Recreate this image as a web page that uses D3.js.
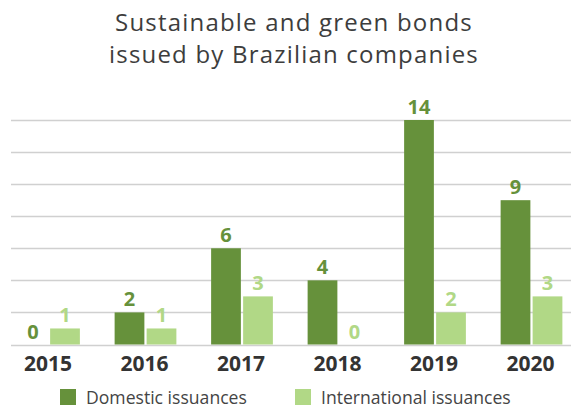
<!DOCTYPE html>
<html>
<head>
<meta charset="utf-8">
<script src="https://cdn.jsdelivr.net/npm/d3@7"></script>
<style>
  body { margin: 0; background: #fff; }
  svg { display: block; font-family: "Open Sans", sans-serif; }
</style>
</head>
<body>
<svg id="svg_bonds" width="571" height="410"></svg>
<script>
let years = ['2015', '2016', '2017', '2018', '2019', '2020'];
let domestic = [0, 2, 6, 4, 14, 9];
let international = [1, 1, 3, 0, 2, 3];
let series_names = ['Domestic issuances', 'International issuances'];
let series_colors = ['#66913b', '#b1d886'];
let y_ticks = [0, 2, 4, 6, 8, 10, 12, 14];
let title_lines = ['Sustainable and green bonds', 'issued by Brazilian companies'];

let svg = d3.select('#svg_bonds');
let svg_width = 571;

// title
svg.append('g').selectAll('text').data(title_lines).enter()
    .append('text')
    .attr('x', 294)
    .attr('y', (d, i) => 31 + i * 32)
    .attr('text-anchor', 'middle')
    .attr('font-size', 24)
    .attr('letter-spacing', 1.2)
    .attr('fill', '#3d3d3d')
    .text(d => d);

let x = d3.scaleBand().domain(years).range([0.75, 579.75]).paddingInner(0.36).paddingOuter(0.18);
let xs = d3.scaleBand().domain([0, 1]).range([0, x.bandwidth()]).paddingInner(0.07);
let y = d3.scaleLinear().domain([0, 14]).range([344.5, 120]);

// gridlines
svg.append('g').selectAll('line').data(y_ticks).enter()
    .append('line')
    .attr('x1', 11)
    .attr('x2', svg_width)
    .attr('y1', d => Math.round(y(d)) + 0.5)
    .attr('y2', d => Math.round(y(d)) + 0.5)
    .attr('stroke', '#d0d0d0')
    .attr('stroke-width', 1.3);

let data = years.map((yr, i) => ({ year: yr, values: [domestic[i], international[i]] }));

let groups = svg.append('g').selectAll('g').data(data).enter()
    .append('g')
    .attr('transform', d => 'translate(' + x(d.year) + ',0)');

groups.selectAll('rect').data(d => d.values).enter()
    .append('rect')
    .attr('x', (d, i) => xs(i))
    .attr('y', d => y(d))
    .attr('width', xs.bandwidth())
    .attr('height', d => y(0) - y(d))
    .attr('fill', (d, i) => series_colors[i]);

groups.selectAll('text').data(d => d.values).enter()
    .append('text')
    .attr('x', (d, i) => xs(i) + xs.bandwidth() / 2)
    .attr('y', d => y(d) - 6)
    .attr('text-anchor', 'middle')
    .attr('font-size', 20)
    .attr('font-weight', 'bold')
    .attr('fill', (d, i) => series_colors[i])
    .text(d => d);

// year labels
svg.append('g').selectAll('text').data(years).enter()
    .append('text')
    .attr('x', d => x(d) + x.bandwidth() / 2 - 1)
    .attr('y', 371)
    .attr('text-anchor', 'middle')
    .attr('font-size', 21)
    .attr('font-weight', 'bold')
    .attr('fill', '#333')
    .text(d => d);

// legend
let legend_x = [60, 295];
let legend = svg.append('g').selectAll('g').data(series_names).enter()
    .append('g')
    .attr('transform', (d, i) => 'translate(' + legend_x[i] + ',389)');
legend.append('rect')
    .attr('width', 16)
    .attr('height', 16)
    .attr('fill', (d, i) => series_colors[i]);
legend.append('text')
    .attr('x', 26)
    .attr('y', 15)
    .attr('font-size', 17.6)
    .attr('fill', '#444')
    .text(d => d);
</script>
</body>
</html>
